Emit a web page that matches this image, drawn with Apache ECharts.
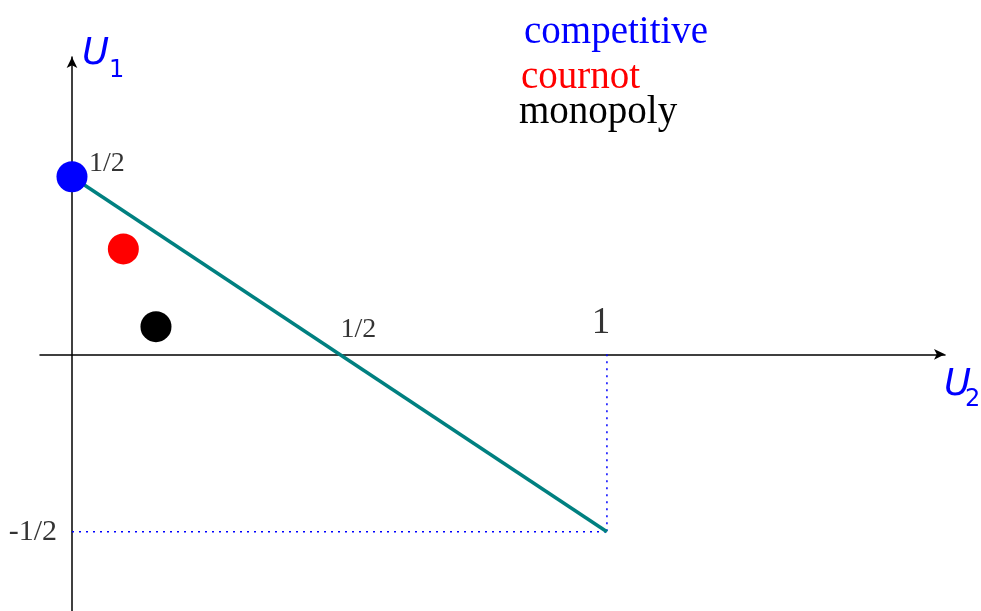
<!DOCTYPE html>
<html><head><meta charset="utf-8">
<script src="https://cdn.jsdelivr.net/npm/echarts@6/dist/echarts.min.js"></script>
<style>html,body{margin:0;padding:0;background:#fff}#c{width:981px;height:611px}</style>
</head><body><div id="c"></div>
<script>
// Data
const pointNames = ['competitive', 'cournot', 'monopoly'];
const pointU2 = [0, 0.096, 0.157];
const pointU1 = [0.5, 0.297, 0.078];
const pointColors = ['#0000ff', '#ff0000', '#000000'];
const frontierU2 = [0, 1];
const frontierU1 = [0.5, -0.5];
const tickLabels = ['1/2', '1/2', '1', '-1/2'];
const tickU2 = [0, 0.5, 1, 0];
const tickU1 = [0.5, 0, 0, -0.5];

const chart = echarts.init(document.getElementById('c'), null, {renderer: 'canvas'});
const serif = '"Liberation Serif", "DejaVu Serif", serif';
const sans = '"DejaVu Sans", "Liberation Sans", sans-serif';

const tickStyles = [
  {position: 'right', offset: [12, -13], fontSize: 28},
  {position: 'top', offset: [19, -6], fontSize: 28},
  {position: 'top', offset: [-6, -8], fontSize: 37},
  {position: 'left', offset: [-10, 0], fontSize: 30}
];

chart.setOption({
  animation: false,
  backgroundColor: '#ffffff',
  grid: {left: 40, right: 36, top: 57, bottom: 0, containLabel: false},
  xAxis: {
    type: 'value', min: -0.0598, max: 1.632,
    axisLine: {onZero: true, symbol: ['none', 'arrow'], symbolSize: [8, 11], lineStyle: {color: '#000', width: 1.5}},
    axisTick: {show: false}, axisLabel: {show: false}, splitLine: {show: false}
  },
  yAxis: {
    type: 'value', min: -0.723, max: 0.8375,
    axisLine: {onZero: true, symbol: ['none', 'arrow'], symbolSize: [8, 11], lineStyle: {color: '#000', width: 1.5}},
    axisTick: {show: false}, axisLabel: {show: false}, splitLine: {show: false}
  },
  series: [
    {
      type: 'line', name: 'frontier', symbol: 'none', z: 3,
      data: frontierU2.map((x, i) => [x, frontierU1[i]]),
      lineStyle: {color: '#008080', width: 3.5}
    },
    {
      type: 'line', name: 'guideV', symbol: 'none', z: 2,
      data: [[frontierU2[1], 0], [frontierU2[1], frontierU1[1]]],
      lineStyle: {color: '#0000ff', width: 1.5, type: [2, 5]}
    },
    {
      type: 'line', name: 'guideH', symbol: 'none', z: 2,
      data: [[0, frontierU1[1]], [frontierU2[1], frontierU1[1]]],
      lineStyle: {color: '#0000ff', width: 1.5, type: [2, 5]}
    },
    {
      type: 'scatter', name: 'outcomes', symbolSize: 31, z: 5,
      data: pointNames.map((n, i) => ({name: n, value: [pointU2[i], pointU1[i]], itemStyle: {color: pointColors[i], opacity: 1}}))
    },
    {
      type: 'scatter', name: 'ticks', symbolSize: 0, z: 6, silent: true,
      data: tickLabels.map((t, i) => ({
        value: [tickU2[i], tickU1[i]],
        label: Object.assign({show: true, formatter: t, color: '#000', fontFamily: serif}, tickStyles[i])
      }))
    }
  ],
  graphic: [
    {type: 'text', left: 524, top: 13, style: {text: pointNames[0], fill: pointColors[0], font: '39px ' + serif}},
    {type: 'text', left: 521, top: 58, style: {text: pointNames[1], fill: pointColors[1], font: '39px ' + serif}},
    {type: 'text', left: 519, top: 93, style: {text: pointNames[2], fill: pointColors[2], font: '39px ' + serif}},
    {type: 'text', left: 82, top: 36, style: {text: 'U', fill: '#0000ff', font: 'italic 37px ' + sans}},
    {type: 'text', left: 109, top: 59, style: {text: '1', fill: '#0000ff', font: '24px ' + sans}},
    {type: 'text', left: 944, top: 367, style: {text: 'U', fill: '#0000ff', font: 'italic 37px ' + sans}},
    {type: 'text', left: 965, top: 388, style: {text: '2', fill: '#0000ff', font: '24px ' + sans}}
  ]
});
</script></body></html>
